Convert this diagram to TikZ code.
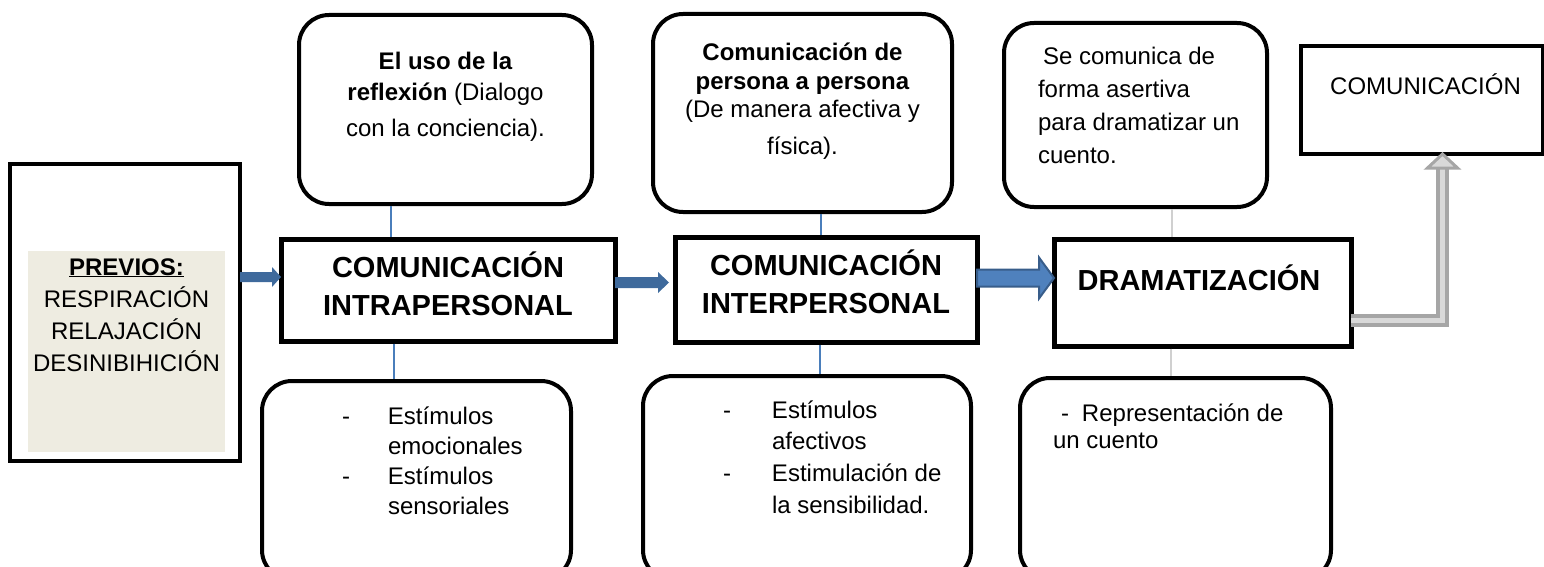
\documentclass[tikz,border=0pt]{standalone}
\usepackage{fontspec}
\setmainfont{Liberation Sans}
\definecolor{prevfill}{HTML}{EEECE1}
\definecolor{connblue}{HTML}{4A7EBB}
\definecolor{conngray}{HTML}{D0D0D0}
\definecolor{arrowA}{HTML}{3F6A9C}
\definecolor{arrowBfill}{HTML}{4F81BD}
\definecolor{arrowBdraw}{HTML}{385D8A}
\definecolor{gout}{HTML}{A6A6A6}
\definecolor{gin}{HTML}{D9D9D9}
\begin{document}
\begin{tikzpicture}[x=1pt,y=-1pt,
  sqbox/.style={draw=black, line width=5pt, fill=white, inner sep=0pt, outer sep=0pt},
  rbox/.style={draw=black, line width=4pt, rounded corners=30pt, fill=white, inner sep=0pt, outer sep=0pt},
  small/.style={font=\fontsize{24}{30}\selectfont, inner sep=0pt, outer sep=0pt},
  big/.style={font=\bfseries\fontsize{29}{38}\selectfont, inner sep=0pt, outer sep=0pt},
  conn/.style={draw=connblue, line width=1.6pt},
  lconn/.style={draw=conngray, line width=1.6pt},
  bluearrow/.style={fill=arrowA},
  widearrow/.style={fill=arrowBfill, draw=arrowBdraw, line width=2pt, line join=miter},
  grayshaft/.style={draw=gout, double=gin, double distance=5pt, line width=4pt, line join=miter},
  grayhead/.style={fill=gin, draw=gout, line width=3pt, line join=miter}]
\useasboundingbox (0,0) rectangle (1544,567);
\clip (0,0) rectangle (1544,567);

% boxes
\node[draw=black, line width=4pt, inner sep=0pt, outer sep=0pt, minimum width=230.5pt, minimum height=297pt] (prev) at (124.75,312.5) {};
\node[fill=prevfill, inner sep=0pt, outer sep=0pt, minimum width=197pt, minimum height=201pt] (prevbg) at (126.5,351.5) {};
\node[rbox, minimum width=293pt, minimum height=189pt] (top1) at (445.5,109.5) {};
\node[sqbox, minimum width=334pt, minimum height=102pt] (intra) at (448,290) {};
\node[rbox, minimum width=309pt, minimum height=199pt] (bot1) at (416.5,480.5) {};
\node[rbox, minimum width=299pt, minimum height=198pt] (top2) at (802.5,113) {};
\node[sqbox, minimum width=302pt, minimum height=105pt] (inter) at (826,289.5) {};
\node[rbox, minimum width=328pt, minimum height=204pt] (bot2) at (807,478) {};
\node[rbox, minimum width=263pt, minimum height=184pt] (top3) at (1135.5,115) {};
\node[sqbox, minimum width=297pt, minimum height=107pt] (drama) at (1202.5,292.5) {};
\node[rbox, minimum width=311pt, minimum height=202pt] (bot3) at (1175.5,479) {};
\node[draw=black, line width=4pt, fill=white, inner sep=0pt, outer sep=0pt, minimum width=242pt, minimum height=108pt] (comm) at (1422,100) {};

% texts
\node[small, font=\fontsize{24}{32}\selectfont, anchor=base] (prevt) at (126.5,275)
  {\begin{tabular}[t]{@{}c@{}}\underline{\textbf{PREVIOS:}}\\RESPIRACIÓN\\RELAJACIÓN\\DESINIBIHICIÓN\end{tabular}};
\node[big, anchor=base] (intrat) at (448,277)
  {\begin{tabular}[t]{@{}c@{}}COMUNICACIÓN\\INTRAPERSONAL\end{tabular}};
\node[big, anchor=base] (intert) at (826,275)
  {\begin{tabular}[t]{@{}c@{}}COMUNICACIÓN\\INTERPERSONAL\end{tabular}};
\node[big, anchor=base] (dramat) at (1199,290) {DRAMATIZACIÓN};
\node[small, anchor=base] (commt) at (1425.5,95) {COMUNICACIÓN};
\node[small, font=\fontsize{24}{31}\selectfont, anchor=base] (top1t) at (445.5,70)
  {\begin{tabular}[t]{@{}c@{}}\textbf{El uso de la}\\\textbf{reflexión} (Dialogo\\[5pt]con la conciencia).\end{tabular}};
\node[small, font=\fontsize{24}{28.5}\selectfont, anchor=base] (top2t) at (802.5,61)
  {\begin{tabular}[t]{@{}c@{}}\textbf{Comunicación de}\\\textbf{persona a persona}\\(De manera afectiva y\\[8.5pt]física).\end{tabular}};
\node[small, font=\fontsize{24}{33}\selectfont, anchor=base west] (top3t) at (1038,65)
  {\begin{tabular}[t]{@{}l@{}}\hspace*{5pt}Se comunica de\\forma asertiva\\para dramatizar un\\cuento.\end{tabular}};
\node[small, font=\fontsize{24}{30}\selectfont, anchor=base west] (bot1t) at (342,424)
  {\begin{tabular}[t]{@{}p{46pt}@{}l@{}}-&Estímulos\\&emocionales\\-&Estímulos\\&sensoriales\end{tabular}};
\node[small, font=\fontsize{24}{31.7}\selectfont, anchor=base west] (bot2t) at (723,418)
  {\begin{tabular}[t]{@{}p{49pt}@{}l@{}}-&Estímulos\\&afectivos\\-&Estimulación de\\&la sensibilidad.\end{tabular}};
\node[small, font=\fontsize{24}{27}\selectfont, anchor=base west] (bot3t) at (1053,421)
  {\begin{tabular}[t]{@{}l@{}}\hspace*{8pt}-\hspace*{13pt}Representación de\\un cuento\end{tabular}};

% helper coordinates
\coordinate (xc1) at (391,0);
\coordinate (xc1b) at (394,0);
\coordinate (xc2) at (821,0);
\coordinate (xc2b) at (820,0);
\coordinate (xc3) at (1172,0);
\coordinate (xc3b) at (1171,0);
\coordinate (ya1) at (0,277);
\coordinate (ya2) at (0,282.5);
\coordinate (ya3) at (0,278);
\coordinate (t2) at (669,282.5);
\coordinate (yg) at (0,320);
\coordinate (xg) at (1442.5,0);
\coordinate (gh) at (0,167);

% thin connectors
\draw[conn, shorten <=2pt, shorten >=2.5pt] (top1.south -| xc1) -- (intra.north -| xc1);
\draw[conn, shorten <=2.5pt, shorten >=2pt] (intra.south -| xc1b) -- (bot1.north -| xc1b);
\draw[conn, shorten <=2pt, shorten >=2.5pt] (top2.south -| xc2) -- (inter.north -| xc2);
\draw[conn, shorten <=2.5pt, shorten >=2pt] (inter.south -| xc2b) -- (bot2.north -| xc2b);
\draw[lconn, shorten <=2pt, shorten >=2.5pt] (top3.south -| xc3) -- (drama.north -| xc3);
\draw[lconn, shorten <=2.5pt, shorten >=2pt] (drama.south -| xc3b) -- (bot3.north -| xc3b);

% block arrows
\fill[bluearrow] (prev.east |- ya1) ++(0,-5) -- ++(32,0) -- ++(0,-5) -- (intra.west |- ya1)
  -- ++(-9,10) -- ++(0,-5) -- ++(-32,0) -- cycle;
\fill[bluearrow] (intra.east |- ya2) ++(0,-5.5) -- ++(43,0) -- ++(0,-5) -- (t2)
  -- ++(-11,10.5) -- ++(0,-5) -- ++(-43,0) -- cycle;
\filldraw[widearrow] (inter.east |- ya3) ++(0,-8.5) -- ++(62,0) -- ++(0,-12) -- (drama.west |- ya3)
  -- ++(-15,20.5) -- ++(0,-12) -- ++(-62,0) -- cycle;

% gray bent arrow
\draw[grayshaft] (drama.east |- yg) -| (xg |- gh);
\filldraw[grayhead] (comm.south -| xg) -- ++(15,14) -- ++(-30,0) -- cycle;
\end{tikzpicture}
\end{document}
